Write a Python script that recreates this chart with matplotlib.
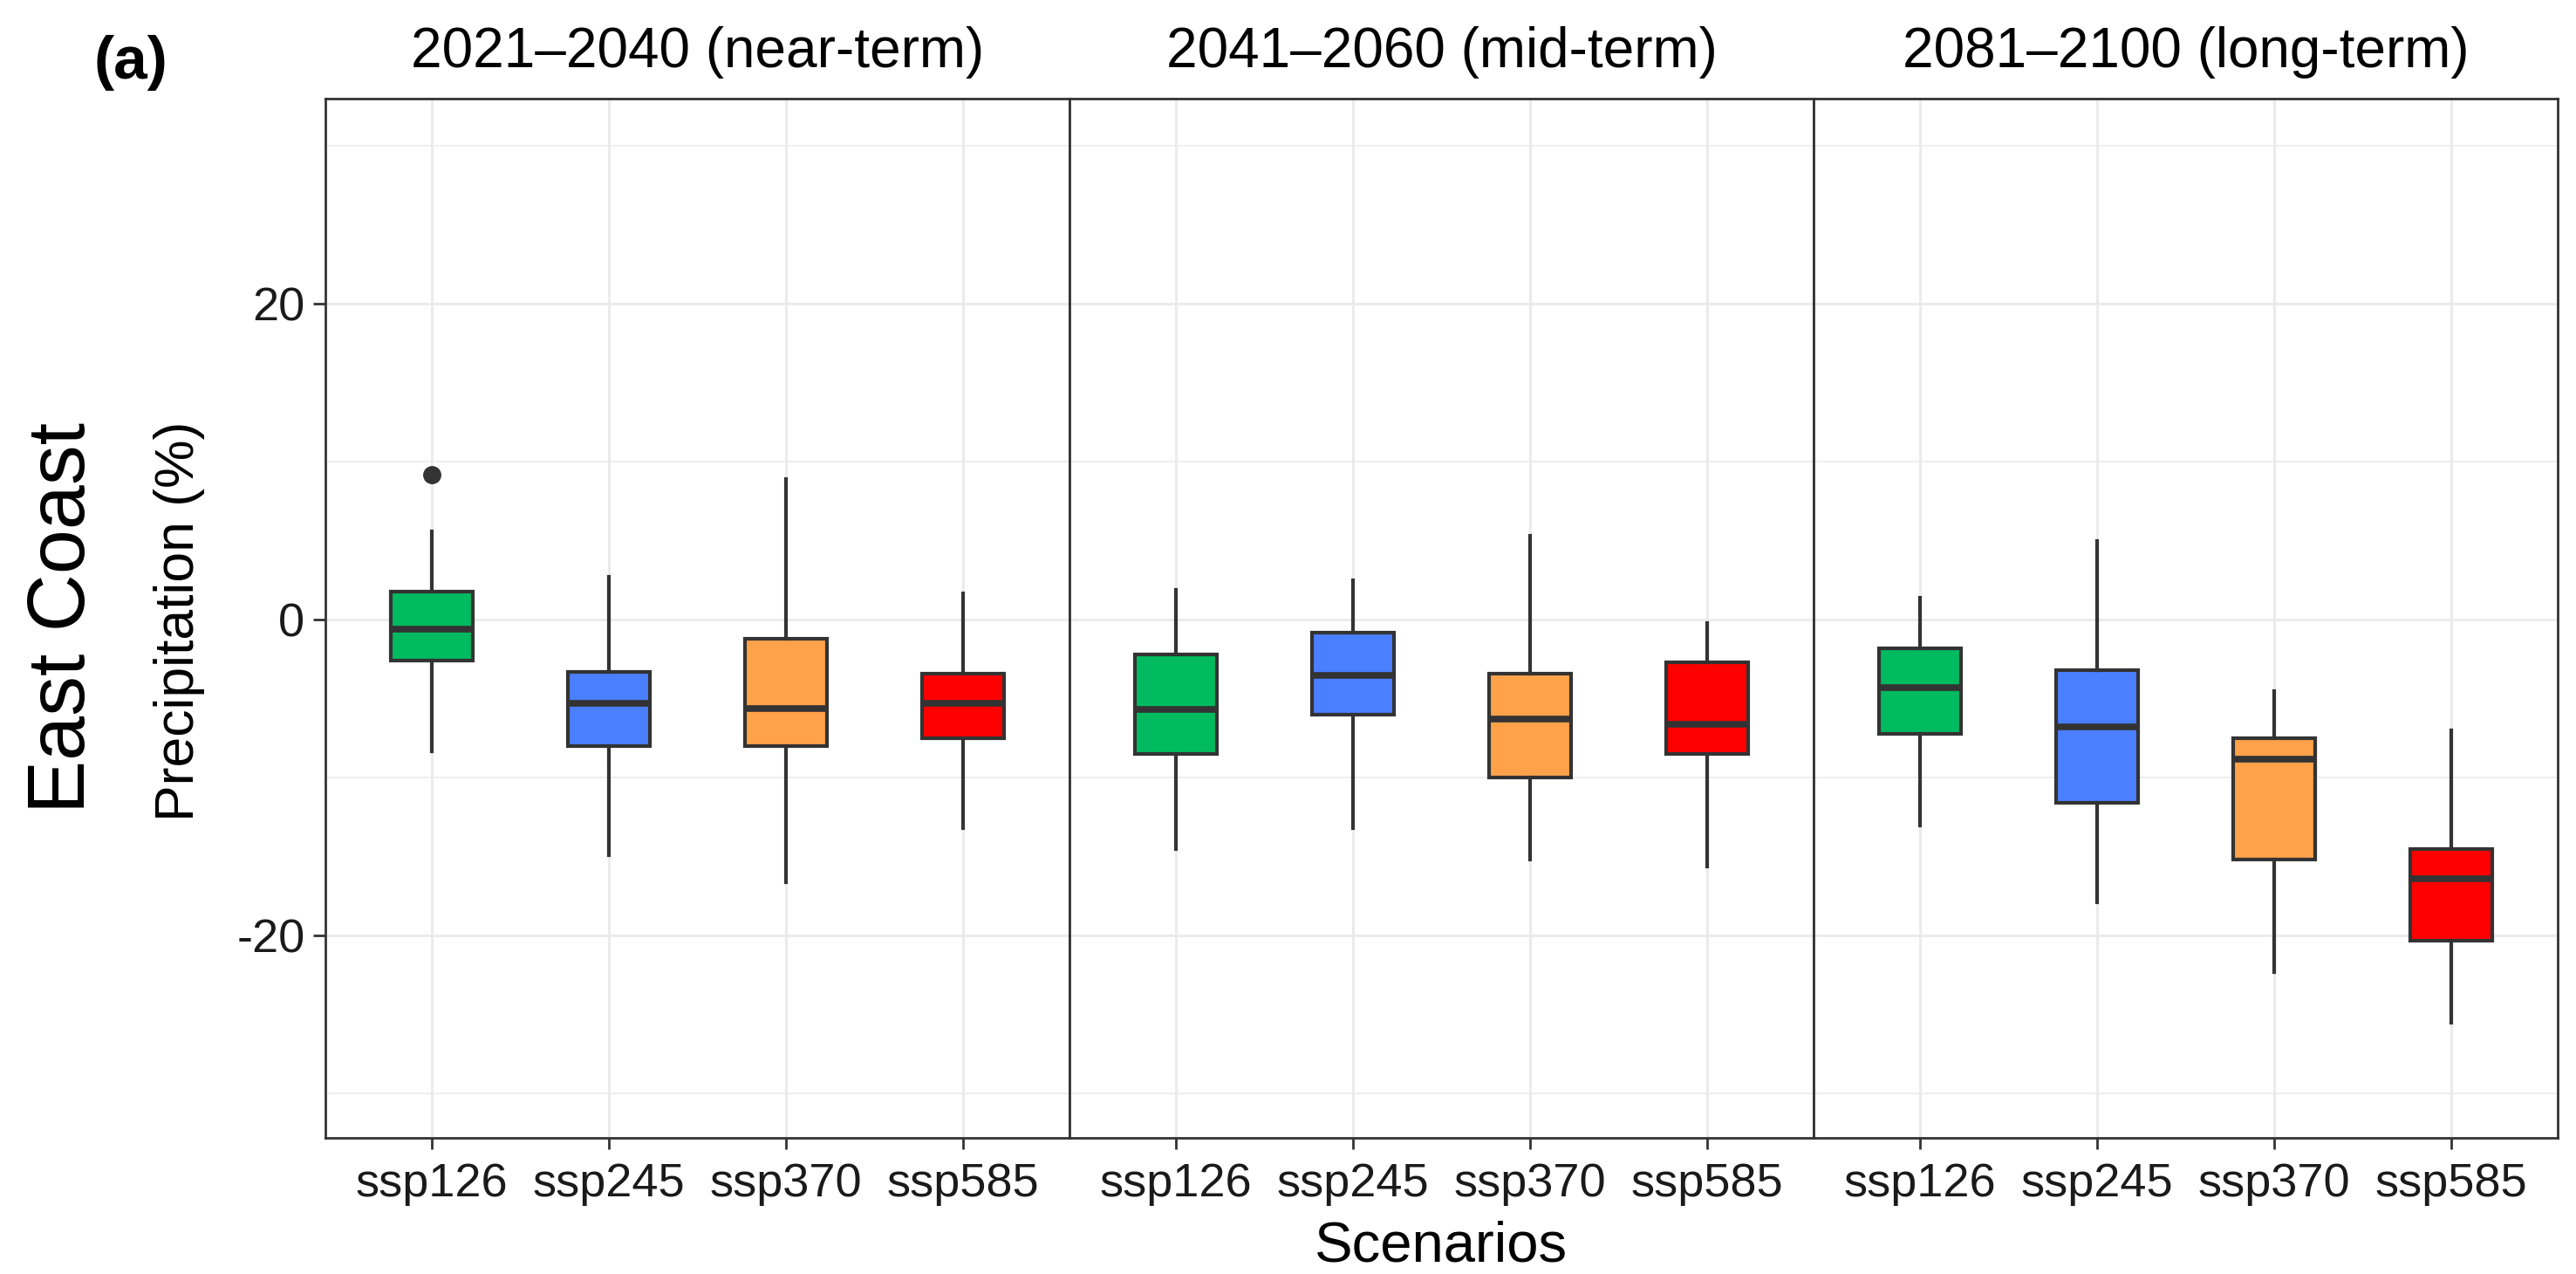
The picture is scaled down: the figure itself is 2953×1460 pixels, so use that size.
import matplotlib
matplotlib.use("Agg")
import matplotlib.pyplot as plt
from matplotlib.ticker import MultipleLocator

plt.rcParams['font.family'] = ['Liberation Sans', 'DejaVu Sans']
plt.rcParams['axes.unicode_minus'] = False

# data (precipitation change, %)
periods = ["2021\u20132040 (near-term)", "2041\u20132060 (mid-term)", "2081\u20132100 (long-term)"]
scenarios = ["ssp126", "ssp245", "ssp370", "ssp585"]
colors = ["#00BA5F", "#4A7FFF", "#FFA24A", "#FF0000"]

whislo = [[-8.3, -14.9, -16.6, -13.2],
          [-14.5, -13.2, -15.2, -15.6],
          [-13.0, -17.9, -22.3, -25.5]]
q1 = [[-2.6, -8.0, -8.0, -7.5],
      [-8.5, -6.0, -10.0, -8.5],
      [-7.2, -11.6, -15.2, -20.3]]
med = [[-0.6, -5.3, -5.6, -5.3],
       [-5.7, -3.5, -6.3, -6.6],
       [-4.3, -6.8, -8.8, -16.4]]
q3 = [[1.8, -3.3, -1.2, -3.4],
      [-2.2, -0.8, -3.4, -2.7],
      [-1.8, -3.2, -7.5, -14.5]]
whishi = [[5.6, 2.7, 8.9, 1.65],
          [1.9, 2.5, 5.3, -0.2],
          [1.4, 5.0, -4.5, -7.0]]
outliers = [[[9.2], [], [], []],
            [[], [], [], []],
            [[], [], [], []]]

W, H = 2953, 1460
fig = plt.figure(figsize=(W / 100, H / 100), dpi=100)

left, right, top, bottom = 373, 2932, 113, 1304
pw = (right - left) / 3
dark = "#333333"

for p in range(3):
    ax = fig.add_axes([(left + p * pw) / W, 1 - bottom / H, pw / W, (bottom - top) / H])
    stats = []
    for i in range(4):
        stats.append(dict(whislo=whislo[p][i], q1=q1[p][i], med=med[p][i],
                          q3=q3[p][i], whishi=whishi[p][i], fliers=outliers[p][i]))
    bp = ax.bxp(stats, positions=[1, 2, 3, 4], widths=0.46, patch_artist=True,
                showcaps=False,
                boxprops=dict(edgecolor=dark, linewidth=3),
                whiskerprops=dict(color=dark, linewidth=3),
                medianprops=dict(color=dark, linewidth=5.5, solid_capstyle="butt"),
                flierprops=dict(marker="o", markerfacecolor=dark, markeredgecolor=dark,
                                markersize=14))
    for patch, c in zip(bp["boxes"], colors):
        patch.set_facecolor(c)
    for b in bp["boxes"] + bp["whiskers"] + bp["medians"] + bp["fliers"]:
        b.set_zorder(3)

    ax.set_xlim(0.4, 4.6)
    ax.set_ylim(-32.8, 33.0)
    ax.set_xticks([1, 2, 3, 4])
    ax.set_xticklabels(scenarios)
    ax.yaxis.set_major_locator(MultipleLocator(20))
    ax.yaxis.set_minor_locator(MultipleLocator(10))
    ax.grid(True, which="major", color="#EBEBEB", linewidth=2.1, zorder=0)
    ax.grid(True, which="minor", axis="y", color="#EBEBEB", linewidth=1.2, zorder=0)
    ax.set_axisbelow(True)
    for s in ax.spines.values():
        s.set_color(dark)
        s.set_linewidth(2)
    ax.tick_params(axis="x", length=9, width=2, color=dark, labelsize=39,
                   labelcolor="#1a1a1a", pad=11.5)
    ax.tick_params(axis="y", which="minor", length=0)
    if p == 0:
        ax.tick_params(axis="y", which="major", length=10, width=2, color=dark,
                       labelsize=39, labelcolor="#1a1a1a", pad=7)
    else:
        ax.tick_params(axis="y", which="major", length=0, labelleft=False)
    fig.text((left + (p + 0.5) * pw) / W, 1 - 77 / H, periods[p], ha="center",
             va="baseline", fontsize=46, color="black")

fig.text(150 / W, 1 - 90 / H, "(a)", ha="center", va="baseline", fontsize=50,
         fontweight="bold")
fig.text(97 / W, 1 - 708 / H, "East Coast", ha="center", va="baseline", rotation=90,
         rotation_mode="anchor", fontsize=66)
fig.text(222 / W, 1 - 712 / H, "Precipitation (%)", ha="center", va="baseline",
         rotation=90, rotation_mode="anchor", fontsize=45)
fig.text((left + right) / 2 / W, 1 - 1445 / H, "Scenarios", ha="center",
         va="baseline", fontsize=47)

fig.savefig("out.png", dpi=100, facecolor="white")
